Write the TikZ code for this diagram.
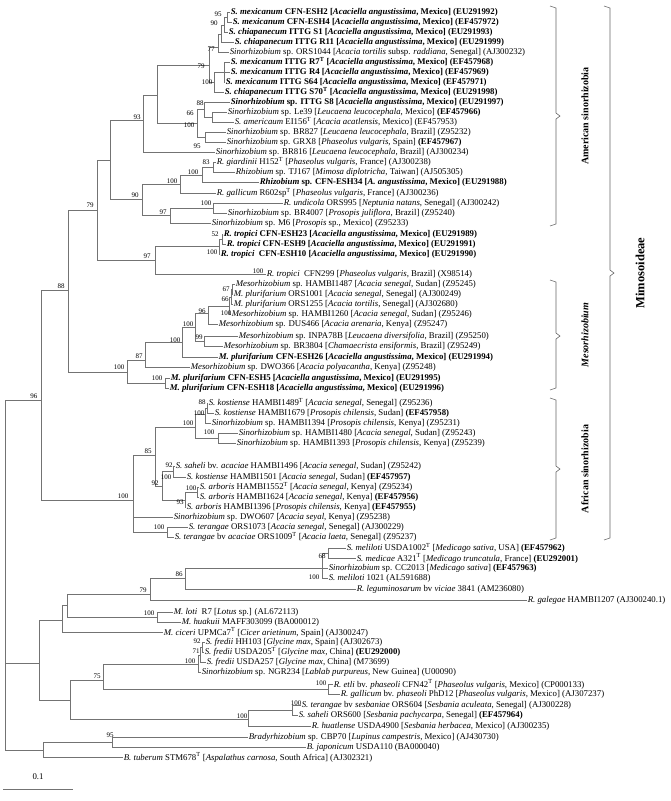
\documentclass[tikz,border=0pt]{standalone}
\usepackage{fontspec}
\setmainfont{Liberation Serif}
\newcommand{\lf}{\fontsize{8.8}{10}\selectfont}
\newcommand{\bsf}{\fontsize{7}{8}\selectfont}
\newcommand{\typ}{\textsuperscript{T}}
\newcommand{\aang}{[\textit{Acaciella angustissima}, Mexico]}

\begin{document}
\begin{tikzpicture}[x=1pt,y=-1pt,
  lf/.style={anchor=west,inner sep=0.6pt,font=\lf},
  bl/.style={lf,font=\lf\bfseries},
  bs/.style={inner sep=0pt,font=\bsf},
  br/.style={draw=black!55,line width=.6pt},
  grp/.style={font=\fontsize{10}{12}\selectfont\bfseries,rotate=90},
  brk/.style={draw=black!60,line width=.6pt}
]
\useasboundingbox (0,0) rectangle (671,801);

% leaves
\node[bl] (l1) at (230,12) {\textit{S. mexicanum} CFN-ESH2 \aang{} (EU291992)};
\node[bl] (l2) at (232,22) {\textit{S. mexicanum} CFN-ESH4 \aang{} (EF457972)};
\node[bl] (l3) at (228,32) {\textit{S. chiapanecum} ITTG S1 \aang{} (EU291993)};
\node[bl] (l4) at (234,42) {\textit{S. chiapanecum} ITTG R11 \aang{} (EU291999)};
\node[lf] (l5) at (229,52) {\textit{Sinorhizobium} sp. ORS1044 [\textit{Acacia tortilis} subsp. \textit{raddiana}, Senegal] (AJ300232)};
\node[bl] (l6) at (230,62) {\textit{S. mexicanum} ITTG R7\typ{} \aang{} (EF457968)};
\node[bl] (l7) at (230,72) {\textit{S. mexicanum} ITTG R4 \aang{} (EF457969)};
\node[bl] (l8) at (225,82) {\textit{S. mexicanum} ITTG S64 \aang{} (EF457971)};
\node[bl] (l9) at (224,92) {\textit{S. chiapanecum} ITTG S70\typ{} \aang{} (EU291998)};
\node[bl] (l10) at (230,102) {\textit{Sinorhizobium} sp. ITTG S8 \aang{} (EU291997)};
\node[lf] (l11) at (227,112) {\textit{Sinorhizobium} sp. Le39 [\textit{Leucaena leucocephala}, Mexico] \textbf{(EF457966)}};
\node[lf] (l12) at (234,122) {\textit{S. americaum} EI156\typ{} [\textit{Acacia acatlensis}, Mexico] (EF457953)};
\node[lf] (l13) at (226,132) {\textit{Sinorhizobium} sp. BR827 [\textit{Leucaena leucocephala}, Brazil] (Z95232)};
\node[lf] (l14) at (226,142) {\textit{Sinorhizobium} sp. GRX8 [\textit{Phaseolus vulgaris}, Spain] \textbf{(EF457967)}};
\node[lf] (l15) at (215,152) {\textit{Sinorhizobium} sp. BR816 [\textit{Leucaena leucocephala}, Brazil] (AJ300234)};
\node[lf] (l16) at (216,162) {\textit{R. giardinii} H152\typ{} [\textit{Phaseolus vulgaris}, France] (AJ300238)};
\node[lf] (l17) at (235,172) {\textit{Rhizobium} sp. TJ167 [\textit{Mimosa diplotricha}, Taiwan] (AJ505305)};
\node[bl] (l18) at (259,182) {\textit{Rhizobium} sp. CFN-ESH34 [\textit{A. angustissima}, Mexico] (EU291988)};
\node[lf] (l19) at (216,193) {\textit{R. gallicum} R602sp\typ{} [\textit{Phaseolus vulgaris}, France] (AJ300236)};
\node[lf] (l20) at (283,203) {\textit{R. undicola} ORS995 [\textit{Neptunia natans}, Senegal] (AJ300242)};
\node[lf] (l21) at (227,213) {\textit{Sinorhizobium} sp. BR4007 [\textit{Prosopis juliflora}, Brazil] (Z95240)};
\node[lf] (l22) at (211,223) {\textit{Sinorhizobium} sp. M6 [\textit{Prosopis} sp., Mexico] (Z95233)};
\node[bl] (l23) at (223,234) {\textit{R. tropici} CFN-ESH23 \aang{} (EU291989)};
\node[bl] (l24) at (226,244) {\textit{R. tropici} CFN-ESH9 \aang{} (EU291991)};
\node[bl] (l25) at (220,254) {\textit{R. tropici}\ \ CFN-ESH10 \aang{} (EU291990)};
\node[lf] (l26) at (266,274) {\textit{R. tropici}\ \ CFN299 [\textit{Phaseolus vulgaris}, Brazil] (X98514)};
\node[lf] (l27) at (235,284) {\textit{Mesorhizobium} sp. HAMBI1487 [\textit{Acacia senegal}, Sudan] (Z95245)};
\node[lf] (l28) at (233,294) {\textit{M. plurifarium} ORS1001 [\textit{Acacia senegal}, Senegal] (AJ300249)};
\node[lf] (l29) at (233,304) {\textit{M. plurifarium} ORS1255 [\textit{Acacia tortilis}, Senegal] (AJ302680)};
\node[lf] (l30) at (231,314) {\textit{Mesorhizobium} sp. HAMBI1260 [\textit{Acacia senegal}, Sudan] (Z95246)};
\node[lf] (l31) at (218,324) {\textit{Mesorhizobium} sp. DUS466 [\textit{Acacia arenaria}, Kenya] (Z95247)};
\node[lf] (l32) at (238,336) {\textit{Mesorhizobium} sp. INPA78B [\textit{Leucaena diversifolia}, Brazil] (Z95250)};
\node[lf] (l33) at (223,346) {\textit{Mesorhizobium} sp. BR3804 [\textit{Chamaecrista ensiformis}, Brazil] (Z95249)};
\node[bl] (l34) at (218,357) {\textit{M. plurifarium} CFN-ESH26 \aang{} (EU291994)};
\node[lf] (l35) at (190,367) {\textit{Mesorhizobium} sp. DWO366 [\textit{Acacia polyacantha}, Kenya] (Z95248)};
\node[bl] (l36) at (170,378) {\textit{M. plurifarium} CFN-ESH5 \aang{} (EU291995)};
\node[bl] (l37) at (169,388) {\textit{M. plurifarium} CFN-ESH18 \aang{} (EU291996)};
\node[lf] (l38) at (208,403) {\textit{S. kostiense} HAMBI1489\typ{} [\textit{Acacia senegal}, Senegal] (Z95236)};
\node[lf] (l39) at (214,413) {\textit{S. kostiense} HAMBI1679 [\textit{Prosopis chilensis}, Sudan] \textbf{(EF457958)}};
\node[lf] (l40) at (211,423) {\textit{Sinorhizobium} sp. HAMBI1394 [\textit{Prosopis chilensis}, Kenya] (Z95231)};
\node[lf] (l41) at (238,433) {\textit{Sinorhizobium} sp. HAMBI1480 [\textit{Acacia senegal}, Sudan] (Z95243)};
\node[lf] (l42) at (236,443) {\textit{Sinorhizobium} sp. HAMBI1393 [\textit{Prosopis chilensis}, Kenya] (Z95239)};
\node[lf] (l43) at (175,466) {\textit{S. saheli} bv. \textit{acaciae} HAMBI1496 [\textit{Acacia senegal}, Sudan] (Z95242)};
\node[lf] (l44) at (186,477) {\textit{S. kostiense} HAMBI1501 [\textit{Acacia senegal}, Sudan] \textbf{(EF457957)}};
\node[lf] (l45) at (199,487) {\textit{S. arboris} HAMBI1552\typ{} [\textit{Acacia senegal}, Kenya] (Z95234)};
\node[lf] (l46) at (199,497) {\textit{S. arboris} HAMBI1624 [\textit{Acacia senegal}, Kenya] \textbf{(EF457956)}};
\node[lf] (l47) at (186,507) {\textit{S. arboris} HAMBI1396 [\textit{Prosopis chilensis}, Kenya] \textbf{(EF457955)}};
\node[lf] (l48) at (173,517) {\textit{Sinorhizobium} sp. DWO607 [\textit{Acacia seyal}, Kenya] (Z95238)};
\node[lf] (l49) at (188,527) {\textit{S. terangae} ORS1073 [\textit{Acacia senegal}, Senegal] (AJ300229)};
\node[lf] (l50) at (174,537) {\textit{S. terangae} bv \textit{acaciae} ORS1009\typ{} [\textit{Acacia laeta}, Senegal] (Z95237)};
\node[lf] (l51) at (346,548) {\textit{S. meliloti} USDA1002\typ{} [\textit{Medicago sativa}, USA] \textbf{(EF457962)}};
\node[lf] (l52) at (356,558) {\textit{S. medicae} A321\typ{} [\textit{Medicago truncatula}, France] \textbf{(EU292001)}};
\node[lf] (l53) at (328,568) {\textit{Sinorhizobium} sp. CC2013 [\textit{Medicago sativa}] \textbf{(EF457963)}};
\node[lf] (l54) at (328,578) {\textit{S. meliloti} 1021 (AL591688)};
\node[lf] (l55) at (356,589) {\textit{R. leguminosarum} bv \textit{viciae} 3841 (AM236080)};
\node[lf] (l56) at (527,600) {\textit{R. galegae} HAMBI1207 (AJ300240.1)};
\node[lf] (l57) at (173,612) {\textit{M. loti}\ \ R7 [\textit{Lotus} sp.] (AL672113)};
\node[lf] (l58) at (181,622) {\textit{M. huakuii} MAFF303099 (BA000012)};
\node[lf] (l59) at (163,632) {\textit{M. ciceri} UPMCa7\typ{} [\textit{Cicer arietinum}, Spain] (AJ300247)};
\node[lf] (l60) at (205,642) {\textit{S. fredii} HH103 [\textit{Glycine max}, Spain] (AJ302673)};
\node[lf] (l61) at (204,652) {\textit{S. fredii} USDA205\typ{} [\textit{Glycine max}, China] \textbf{(EU292000)}};
\node[lf] (l62) at (206,662) {\textit{S. fredii} USDA257 [\textit{Glycine max}, China] (M73699)};
\node[lf] (l63) at (201,672) {\textit{Sinorhizobium} sp. NGR234 [\textit{Lablab purpureus}, New Guinea] (U00090)};
\node[lf] (l64) at (333,684) {\textit{R. etli} bv. \textit{phaseoli} CFN42\typ{} [\textit{Phaseolus vulgaris}, Mexico] (CP000133)};
\node[lf] (l65) at (340,694) {\textit{R. gallicum} bv. \textit{phaseoli} PhD12 [\textit{Phaseolus vulgaris}, Mexico] (AJ307237)};
\node[lf] (l66) at (301,705) {\textit{S. terangae} bv \textit{sesbaniae} ORS604 [\textit{Sesbania aculeata}, Senegal] (AJ300228)};
\node[lf] (l67) at (298,715) {\textit{S. saheli} ORS600 [\textit{Sesbania pachycarpa}, Senegal] \textbf{(EF457964)}};
\node[lf] (l68) at (311,726) {\textit{R. huatlense} USDA4900 [\textit{Sesbania herbacea}, Mexico] (AJ300235)};
\node[lf] (l69) at (248,737) {\textit{Bradyrhizobium} sp. CBP70 [\textit{Lupinus campestris}, Mexico] (AJ430730)};
\node[lf] (l70) at (306,747) {\textit{B. japonicum} USDA110 (BA000040)};
\node[lf] (l71) at (123,757) {\textit{B. tuberum} STM678\typ{} [\textit{Aspalathus carnosa}, South Africa] (AJ302321)};

% inner nodes
\coordinate (n95a) at (227,17);
\coordinate (n90a) at (224,25);
\coordinate (nA) at (221,34);
\coordinate (n77) at (218,47);
\coordinate (nR) at (224,72);
\coordinate (n100a) at (214,82);
\coordinate (n79a) at (209,65);
\coordinate (nLe) at (212,117);
\coordinate (n88a) at (204,109);
\coordinate (n95b) at (205,137);
\coordinate (n66) at (197,123);
\coordinate (n157) at (157,95);
\coordinate (n93) at (143,120);
\coordinate (n83) at (213,167);
\coordinate (n100c) at (202,175);
\coordinate (n100d) at (180,184);
\coordinate (n100e) at (213,208);
\coordinate (n97a) at (170,215);
\coordinate (n90b) at (142,199);
\coordinate (nAm) at (110,160);
\coordinate (n52) at (222,239);
\coordinate (n100f) at (219,246);
\coordinate (n97b) at (155,260);
\coordinate (n79b) at (97,210);
\coordinate (nM67) at (232,289);
\coordinate (nM66) at (231,297);
\coordinate (nM100) at (229,306);
\coordinate (nM96) at (208,313);
\coordinate (nM99) at (204,341);
\coordinate (nM100b) at (195,327);
\coordinate (nM100c) at (182,342);
\coordinate (nM87) at (145,360);
\coordinate (nM100e) at (165,383);
\coordinate (nMeso) at (127,372);
\coordinate (n88b) at (68,290);
\coordinate (nK88) at (207,408);
\coordinate (nK100) at (205,414);
\coordinate (nH100) at (218,438);
\coordinate (nK100b) at (195,427);
\coordinate (nS92) at (173,471);
\coordinate (nA100) at (197,492);
\coordinate (nA93) at (185,500);
\coordinate (nA92) at (162,486);
\coordinate (nAfr85) at (155,455);
\coordinate (nT100) at (167,532);
\coordinate (nAfr) at (133,500);
\coordinate (n96) at (41,400);
\coordinate (nMe68) at (328,553);
\coordinate (nMe100) at (322,568);
\coordinate (nMe86) at (185,578);
\coordinate (nMe79) at (150,594);
\coordinate (nL100) at (157,617);
\coordinate (nX) at (67,605);
\coordinate (nY) at (62,620);
\coordinate (nF92) at (202,647);
\coordinate (nF71) at (200,655);
\coordinate (nF100) at (198,664);
\coordinate (nEG) at (328,689);
\coordinate (nF75) at (103,680);
\coordinate (nSs) at (292,710);
\coordinate (nSes) at (248,719);
\coordinate (n70) at (70,700);
\coordinate (n39) at (39,663);
\coordinate (nBr95) at (112,742);
\coordinate (nBr) at (43,750);
\coordinate (root) at (5,575);

% branches
\draw[br] (n95a) |- (l1) (n95a) |- (l2);
\draw[br] (n90a) |- (n95a) (n90a) |- (l3);
\draw[br] (nA) |- (n90a) (nA) |- (l4);
\draw[br] (n77) |- (nA) (n77) |- (l5);
\draw[br] (nR) |- (l6) (nR) |- (l7) (nR) |- (l8);
\draw[br] (n100a) |- (nR) (n100a) |- (l9);
\draw[br] (n79a) |- (n77) (n79a) |- (n100a);
\draw[br] (nLe) |- (l11) (nLe) |- (l12);
\draw[br] (n88a) |- (l10) (n88a) |- (nLe);
\draw[br] (n95b) |- (l13) (n95b) |- (l14);
\draw[br] (n66) |- (n88a) (n66) |- (n95b);
\draw[br] (n157) |- (n79a) (n157) |- (n66);
\draw[br] (n93) |- (n157) (n93) |- (l15);
\draw[br] (n83) |- (l16) (n83) |- (l17);
\draw[br] (n100c) |- (n83) (n100c) |- (l18);
\draw[br] (n100d) |- (n100c) (n100d) |- (l19);
\draw[br] (n100e) |- (l20) (n100e) |- (l21);
\draw[br] (n97a) |- (n100e) (n97a) |- (l22);
\draw[br] (n90b) |- (n100d) (n90b) |- (n97a);
\draw[br] (nAm) |- (n93) (nAm) |- (n90b);
\draw[br] (n52) |- (l23) (n52) |- (l24);
\draw[br] (n100f) |- (n52) (n100f) |- (l25);
\draw[br] (n97b) |- (n100f) (n97b) |- (l26);
\draw[br] (n79b) |- (nAm) (n79b) |- (n97b);
\draw[br] (nM67) |- (l27) (nM67) |- (l28);
\draw[br] (nM66) |- (nM67) (nM66) |- (l29);
\draw[br] (nM100) |- (nM66) (nM100) |- (l30);
\draw[br] (nM96) |- (nM100) (nM96) |- (l31);
\draw[br] (nM99) |- (l32) (nM99) |- (l33);
\draw[br] (nM100b) |- (nM96) (nM100b) |- (nM99);
\draw[br] (nM100c) |- (nM100b) (nM100c) |- (l34);
\draw[br] (nM87) |- (nM100c) (nM87) |- (l35);
\draw[br] (nM100e) |- (l36) (nM100e) |- (l37);
\draw[br] (nMeso) |- (nM87) (nMeso) |- (nM100e);
\draw[br] (n88b) |- (n79b) (n88b) |- (nMeso);
\draw[br] (nK88) |- (l38) (nK88) |- (l39);
\draw[br] (nK100) |- (nK88) (nK100) |- (l40);
\draw[br] (nH100) |- (l41) (nH100) |- (l42);
\draw[br] (nK100b) |- (nK100) (nK100b) |- (nH100);
\draw[br] (nS92) |- (l43) (nS92) |- (l44);
\draw[br] (nA100) |- (l45) (nA100) |- (l46);
\draw[br] (nA93) |- (nA100) (nA93) |- (l47);
\draw[br] (nA92) |- (nS92) (nA92) |- (nA93);
\draw[br] (nAfr85) |- (nK100b) (nAfr85) |- (nA92);
\draw[br] (nT100) |- (l49) (nT100) |- (l50);
\draw[br] (nAfr) |- (nAfr85) (nAfr) |- (l48) (nAfr) |- (nT100);
\draw[br] (n96) |- (n88b) (n96) |- (nAfr);
\draw[br] (nMe68) |- (l51) (nMe68) |- (l52);
\draw[br] (nMe100) |- (nMe68) (nMe100) |- (l53) (nMe100) |- (l54);
\draw[br] (nMe86) |- (nMe100) (nMe86) |- (l55);
\draw[br] (nMe79) |- (nMe86) (nMe79) |- (l56);
\draw[br] (nL100) |- (l57) (nL100) |- (l58);
\draw[br] (nX) |- (nMe79) (nX) |- (nL100);
\draw[br] (nY) |- (nX) (nY) |- (l59);
\draw[br] (nF92) |- (l60) (nF92) |- (l61);
\draw[br] (nF71) |- (nF92) (nF71) |- (l62);
\draw[br] (nF100) |- (nF71) (nF100) |- (l63);
\draw[br] (nEG) |- (l64) (nEG) |- (l65);
\draw[br] (nF75) |- (nF100) (nF75) |- (nEG);
\draw[br] (nSs) |- (l66) (nSs) |- (l67);
\draw[br] (nSes) |- (nSs) (nSes) |- (l68);
\draw[br] (n70) |- (nF75) (n70) |- (nSes);
\draw[br] (n39) |- (nY) (n39) |- (n70);
\draw[br] (nBr95) |- (l69) (nBr95) |- (l70);
\draw[br] (nBr) |- (nBr95) (nBr) |- (l71);
\draw[br] (root) |- (n96) (root) |- (n39) (root) |- (nBr);

% bootstrap values
\node[bs] (b1) at (218,14) {95};
\node[bs] (b2) at (214,23) {90};
\node[bs] (b3) at (211,49) {77};
\node[bs] (b4) at (201,66) {79};
\node[bs] (b5) at (207,82) {100};
\node[bs] (b6) at (200,103) {88};
\node[bs] (b7) at (190,113) {66};
\node[bs] (b8) at (189,125) {100};
\node[bs] (b9) at (137,117) {93};
\node[bs] (b10) at (197,146) {95};
\node[bs] (b11) at (206,162) {83};
\node[bs] (b12) at (193,172) {100};
\node[bs] (b13) at (172,181) {100};
\node[bs] (b14) at (135,195) {90};
\node[bs] (b15) at (90,205) {79};
\node[bs] (b16) at (206,203) {100};
\node[bs] (b17) at (163,212) {97};
\node[bs] (b18) at (215,234) {52};
\node[bs] (b19) at (212,252) {100};
\node[bs] (b20) at (147,256) {97};
\node[bs] (b21) at (258,271) {100};
\node[bs] (b22) at (61,286) {88};
\node[bs] (b23) at (226,289) {67};
\node[bs] (b24) at (225,299) {66};
\node[bs] (b25) at (202,311) {96};
\node[bs] (b26) at (226,313) {100};
\node[bs] (b27) at (188,324) {100};
\node[bs] (b28) at (199,337) {99};
\node[bs] (b29) at (175,340) {100};
\node[bs] (b30) at (139,356) {87};
\node[bs] (b31) at (119,367) {100};
\node[bs] (b32) at (157,378) {100};
\node[bs] (b33) at (34,396) {96};
\node[bs] (b34) at (202,402) {88};
\node[bs] (b35) at (199,413) {100};
\node[bs] (b36) at (188,423) {100};
\node[bs] (b37) at (209,432) {100};
\node[bs] (b38) at (148,451) {85};
\node[bs] (b39) at (169,465) {92};
\node[bs] (b40) at (166,477) {100};
\node[bs] (b41) at (155,483) {92};
\node[bs] (b42) at (191,488) {100};
\node[bs] (b43) at (180,502) {93};
\node[bs] (b44) at (123,496) {100};
\node[bs] (b45) at (159,527) {100};
\node[bs] (b46) at (322,556) {68};
\node[bs] (b47) at (314,577) {100};
\node[bs] (b48) at (179,574) {86};
\node[bs] (b49) at (143,590) {79};
\node[bs] (b50) at (149,613) {100};
\node[bs] (b51) at (197,641) {92};
\node[bs] (b52) at (196,651) {71};
\node[bs] (b53) at (190,661) {100};
\node[bs] (b54) at (97,676) {75};
\node[bs] (b55) at (321,683) {100};
\node[bs] (b56) at (296,703) {100};
\node[bs] (b57) at (242,716) {100};
\node[bs] (b58) at (110,735) {95};

% groups
\draw[brk] (550,6) -- (556,8) -- (556,113) -- (560,116) -- (556,119) -- (556,224) -- (550,226);
\node[grp] (gAm) at (585,116) {American sinorhizobia};
\draw[brk] (550,280) -- (556,282) -- (556,333) -- (560,336) -- (556,339) -- (556,388) -- (550,390);
\node[grp] (gMe) at (585,335) {\textit{Mesorhizobium}};
\draw[brk] (550,398) -- (556,400) -- (556,466) -- (560,469) -- (556,472) -- (556,538) -- (550,540);
\node[grp] (gAf) at (585,469) {African sinorhizobia};
\draw[brk] (604,6) -- (610,8) -- (610,270) -- (614,273) -- (610,276) -- (610,538) -- (604,540);
\node[grp,font=\fontsize{12.5}{14}\selectfont\bfseries] (gMi) at (640,273) {Mimosoideae};

% scale
\coordinate (s0) at (3,789);
\coordinate (s1) at (73,789);
\draw[br] (s0) -- (s1);
\node[bs,font=\lf] (sc) at (38,777) {0.1};
\end{tikzpicture}
\end{document}
